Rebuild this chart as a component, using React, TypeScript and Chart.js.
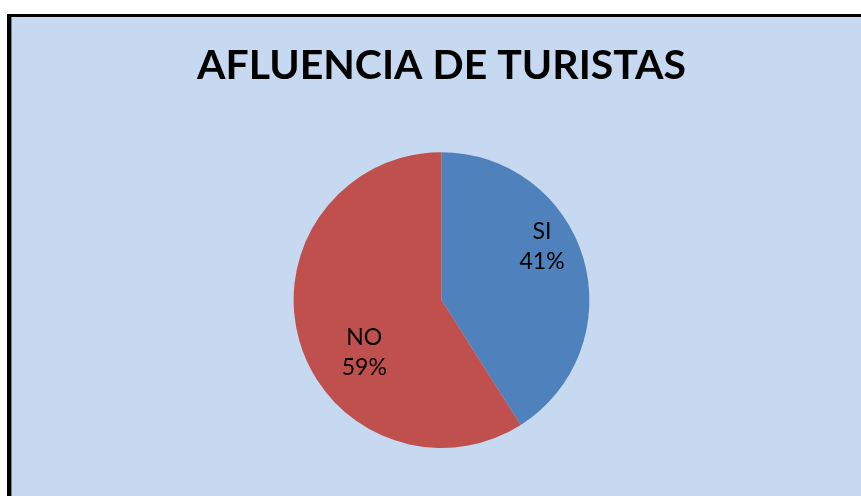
import React, { useEffect, useRef } from "react";
import { Chart, registerables } from "chart.js";

Chart.register(...registerables);

const categories = ["SI", "NO"];
const values = [41, 59];
const colors = ["#4F81BD", "#C0504D"];
const titleText = "AFLUENCIA DE TURISTAS";

// label placement (style): angle offset from slice middle (deg), radius fraction
const labelAngleOffset = [-11.8, -17.8];
const labelRadiusFrac = [0.77, 0.63];

const labelPlugin = {
  id: "pieLabels",
  afterDatasetsDraw(chart: any) {
    const meta = chart.getDatasetMeta(0);
    const ctx = chart.ctx;
    const total = values.reduce((a, b) => a + b, 0);
    ctx.save();
    ctx.font = "23px Lato";
    ctx.fillStyle = "#000";
    ctx.textAlign = "center";
    ctx.textBaseline = "middle";
    meta.data.forEach((arc: any, i: number) => {
      const p = arc.getProps(["x", "y", "startAngle", "endAngle", "outerRadius"], true);
      const mid = (p.startAngle + p.endAngle) / 2 + (labelAngleOffset[i] * Math.PI) / 180;
      const r = p.outerRadius * labelRadiusFrac[i];
      const cx = p.x + Math.cos(mid) * r;
      const cy = p.y + Math.sin(mid) * r;
      const pct = Math.round((values[i] / total) * 100) + "%";
      ctx.fillText(categories[i], cx, cy - 15);
      ctx.fillText(pct, cx, cy + 15);
    });
    ctx.restore();
  },
};

export default function App() {
  const ref = useRef<HTMLCanvasElement | null>(null);
  useEffect(() => {
    document.body.style.margin = "0";
    const chart = new Chart(ref.current as HTMLCanvasElement, {
      type: "pie",
      data: {
        labels: categories,
        datasets: [
          {
            data: values,
            backgroundColor: colors,
            borderWidth: 0,
          },
        ],
      },
      options: {
        animation: false,
        responsive: false,
        layout: { padding: { left: 22, right: 0, top: 0, bottom: 48 } },
        plugins: {
          legend: { display: false },
          tooltip: { enabled: false },
          title: {
            display: true,
            text: titleText,
            color: "#000",
            font: { family: "Lato", size: 41, weight: "bold", lineHeight: 1.2 },
            padding: { top: 41, bottom: 62 },
          },
        },
      },
      plugins: [labelPlugin],
    });
    return () => chart.destroy();
  }, []);
  return (
    <div style={{ position: "relative", width: 861, height: 496, background: "#fff", overflow: "hidden" }}>
      <div
        style={{
          position: "absolute",
          left: 7,
          top: 14,
          width: 900,
          height: 520,
          background: "#C6D9F1",
          borderLeft: "4px solid #000",
          borderTop: "3px solid #000",
          boxShadow: "inset 1px 0 0 #7f7f7f",
        }}
      />
      <canvas ref={ref} width={861} height={496} style={{ position: "absolute", left: 0, top: 0 }} />
    </div>
  );
}
